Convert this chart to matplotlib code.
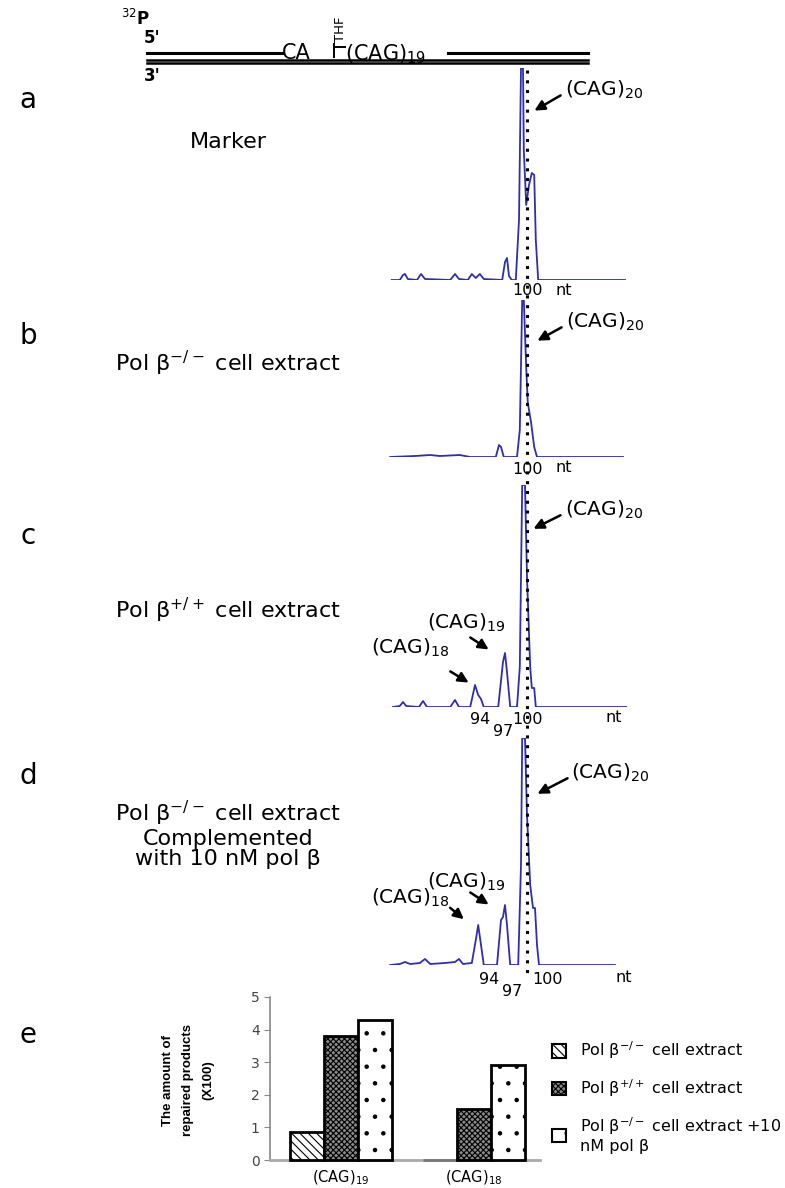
import matplotlib
matplotlib.use('Agg')
import matplotlib.pyplot as plt
from matplotlib.lines import Line2D
from matplotlib.patches import Patch, FancyArrowPatch

plt.rcParams['font.family'] = ['DejaVu Sans']
plt.rcParams['mathtext.fontset'] = 'dejavusans'
plt.rcParams['hatch.linewidth'] = 0.8

# traces: nt position vs signal (arbitrary units)
a_nt = [83.1, 84.1, 84.5, 84.75, 85.1, 86.25, 86.75, 87.25, 90.4, 91.0, 91.5, 92.6, 93.1, 93.6,
        94.1, 94.6, 96.9, 97.25, 97.5, 97.75, 98.1, 98.6, 99.0, 99.25, 99.5, 99.6, 99.9, 100.25,
        100.6, 100.9, 101.1, 101.4, 112.25]
a_sig = [0, 0, 5, 6, 1, 0, 6, 1, 0, 6, 1, 0, 6, 2,
         6, 1, 0, 18, 22, 4, 0, 0, 60, 212, 212, 130, 75, 95,
         107, 105, 40, 0, 0]

b_nt = [82.9, 86.0, 87.9, 89.1, 91.6, 92.9, 96.1, 96.5, 96.75, 97.1, 98.75, 99.1, 99.4, 99.6,
        99.9, 100.1, 100.5, 100.9, 101.25, 112.0]
b_sig = [0, 1, 2, 1, 2, 0, 0, 12, 10, 0, 0, 27, 157, 157,
         90, 54, 35, 10, 0, 0]

c_nt = [83.25, 84.1, 84.5, 84.9, 86.5, 87.0, 87.5, 90.4, 91.0, 91.5, 92.9, 93.5, 93.9, 94.25,
        94.6, 96.4, 97.0, 97.25, 97.5, 97.9, 98.75, 99.1, 99.4, 99.75, 100.0, 100.4, 100.6,
        100.9, 101.1, 112.4]
c_sig = [0, 1, 5, 1, 0, 6, 0, 0, 7, 0, 0, 22, 12, 8,
         0, 0, 45, 54, 35, 0, 0, 40, 222, 222, 130, 40, 19,
         19, 0, 0]

d_nt = [82.9, 84.1, 84.75, 85.4, 86.6, 87.25, 87.9, 89.75, 91.0, 91.5, 92.0, 93.1, 93.6, 93.9,
        94.25, 94.6, 96.25, 96.75, 97.0, 97.25, 97.5, 97.9, 98.9, 99.25, 99.4, 99.75, 100.0,
        100.4, 100.75, 101.0, 101.25, 101.5, 111.0]
d_sig = [0, 1, 3, 1, 2, 6, 1, 2, 3, 6, 1, 2, 25, 40,
         20, 0, 0, 45, 48, 60, 40, 0, 0, 100, 227, 227, 150,
         80, 57, 57, 20, 0, 0]

# bar chart (e)
categories = ['(CAG)$_{19}$', '(CAG)$_{18}$']
series_names = ['Pol β$^{-/-}$ cell extract', 'Pol β$^{+/+}$ cell extract',
                'Pol β$^{-/-}$ cell extract +10\nnM pol β']
pol_ko = [0.87, 0.0]
pol_wt = [3.8, 1.55]
pol_comp = [4.28, 2.9]

W, H = 785, 1188
fig = plt.figure(figsize=(W / 100, H / 100), dpi=100)


def fx(px):
    return px / W


def fy(py):
    return 1 - py / H


def txt(x, y, s, **kw):
    fig.text(fx(x), fy(y), s, **kw)


def hline(x0, x1, y, **kw):
    fig.add_artist(Line2D([fx(x0), fx(x1)], [fy(y), fy(y)], **kw))


def arrow(x0, y0, x1, y1):
    fig.add_artist(FancyArrowPatch(
        (fx(x0), fy(y0)), (fx(x1), fy(y1)), transform=fig.transFigure,
        arrowstyle='-|>,head_length=6,head_width=3', color='black', lw=1.8))


blue = '#2f2fa8'

# ---- top DNA diagram ----
hline(147, 282, 53, color='k', lw=2.2)
hline(448, 588, 53, color='k', lw=2.2)
hline(147, 588, 59.5, color='k', lw=1.8)
hline(147, 588, 62.5, color='k', lw=1.8)
txt(282, 53, 'CA', fontsize=15, va='center', ha='left')
fig.add_artist(Line2D([fx(334), fx(334)], [fy(44), fy(57)], color='k', lw=1.4))
hline(334, 345, 47, color='k', lw=1.4)
txt(340, 29, 'THF', fontsize=9.5, rotation=90, va='center', ha='center')
txt(345, 54, '(CAG)$_{19}$', fontsize=15, va='center', ha='left')
txt(121, 19, '$^{32}$P', fontsize=12, fontweight='bold', va='center', ha='left')
txt(144, 38, "5'", fontsize=12, fontweight='bold', va='center', ha='left')
txt(144, 76, "3'", fontsize=12, fontweight='bold', va='center', ha='left')

# ---- electropherogram panels ----
panels = [
    (a_nt, a_sig, 280, 68),
    (b_nt, b_sig, 457, 300),
    (c_nt, c_sig, 707, 485),
    (d_nt, d_sig, 965, 738),
]
for nt, sig, base, top in panels:
    ax = fig.add_axes([fx(380), fy(base), fx(640) - fx(380), (base - top) / H])
    ax.plot(nt, sig, color=blue, lw=1.3)
    ax.set_xlim(81.625, 114.125)
    ax.set_ylim(0, base - top)
    ax.axis('off')

# dotted marker line at 100 nt
fig.add_artist(Line2D([fx(527), fx(527)], [fy(70), fy(975)], color='k', lw=2.2,
                      ls=(0, (1, 2.2))))

# panel letters and labels
for letter, y in [('a', 100), ('b', 336), ('c', 536), ('d', 776), ('e', 1035)]:
    txt(28, y, letter, fontsize=20, va='center', ha='center')

txt(228, 142, 'Marker', fontsize=16, ha='center', va='center')
txt(228, 363, 'Pol β$^{-/-}$ cell extract', fontsize=16, ha='center', va='center')
txt(228, 610, 'Pol β$^{+/+}$ cell extract', fontsize=16, ha='center', va='center')
txt(228, 834, 'Pol β$^{-/-}$ cell extract\nComplemented\nwith 10 nM pol β',
    fontsize=16, ha='center', va='center', linespacing=1.05)

# peak labels
cag20 = [(565, 90, 563, 94, 532, 112), (566, 322, 564, 326, 535, 342),
         (565, 510, 563, 514, 531, 530), (571, 773, 570, 777, 535, 795)]
for tx_, ty_, x0, y0, x1, y1 in cag20:
    txt(tx_, ty_, '(CAG)$_{20}$', fontsize=14.5, ha='left', va='center')
    arrow(x0, y0, x1, y1)

txt(466, 623, '(CAG)$_{19}$', fontsize=14.5, ha='center', va='center')
txt(410, 648, '(CAG)$_{18}$', fontsize=14.5, ha='center', va='center')
arrow(468, 636, 491, 651)
arrow(448, 670, 471, 684)
txt(466, 882, '(CAG)$_{19}$', fontsize=14.5, ha='center', va='center')
txt(410, 898, '(CAG)$_{18}$', fontsize=14.5, ha='center', va='center')
arrow(468, 891, 491, 906)
arrow(448, 906, 466, 921)

# axis numbers under traces
num = dict(fontsize=11.5, ha='center', va='center')
txt(527, 290, '100', **num)
txt(564, 290, 'nt', **num)
txt(527, 470, '100', **num)
txt(564, 468, 'nt', **num)
txt(480, 720, '94', **num)
txt(503, 732, '97', **num)
txt(528, 720, '100', **num)
txt(614, 718, 'nt', **num)
txt(489, 980, '94', **num)
txt(512, 991, '97', **num)
txt(547, 980, '100', **num)
txt(624, 978, 'nt', **num)

# ---- bar chart e ----
axe = fig.add_axes([fx(270), fy(1160), fx(540) - fx(270), (1160 - 997) / H])
xpos = [0, 1]
w = 0.256
styles = [('white', '\\\\\\\\'), ('#8a8a8a', 'xxxxxx'), ('white', '.')]
vals = [pol_ko, pol_wt, pol_comp]
handles = []
for i, (v, (fc, hatch)) in enumerate(zip(vals, styles)):
    xs = [p + (i - 1) * w for p in xpos]
    ec = ['black' if val > 0 else '#777777' for val in v]
    axe.bar(xs, v, width=w, color=fc, edgecolor=ec, hatch=hatch,
            lw=2, zorder=3, clip_on=False)
    handles.append(Patch(facecolor=fc, edgecolor='black', hatch=hatch, lw=1.5))
axe.set_xlim(-0.534, 1.496)
axe.set_ylim(0, 5)
axe.set_yticks(range(6))
axe.set_xticks(xpos)
axe.set_xticklabels(categories, fontsize=10.5)
axe.tick_params(axis='y', labelsize=10, labelcolor='#444444', color='#888888', length=4)
axe.tick_params(axis='x', length=0, pad=6)
for s in ['top', 'right']:
    axe.spines[s].set_visible(False)
axe.spines['left'].set_color('#888888')
axe.spines['left'].set_linewidth(1.2)
axe.spines['bottom'].set_color('#aaaaaa')
axe.spines['bottom'].set_linewidth(2)
txt(188, 1080, 'The amount of\nrepaired products\n(X100)', fontsize=9.5,
    family='Liberation Sans', fontweight='bold', rotation=90, ha='center',
    va='center', linespacing=1.9)

fig.legend(handles, series_names, loc='center left',
           bbox_to_anchor=(fx(542), fy(1097)), frameon=False, fontsize=11.5,
           handlelength=0.9, handleheight=0.9, handletextpad=0.9, labelspacing=1.0,
           borderaxespad=0.2)

fig.savefig('out.png', dpi=100)
